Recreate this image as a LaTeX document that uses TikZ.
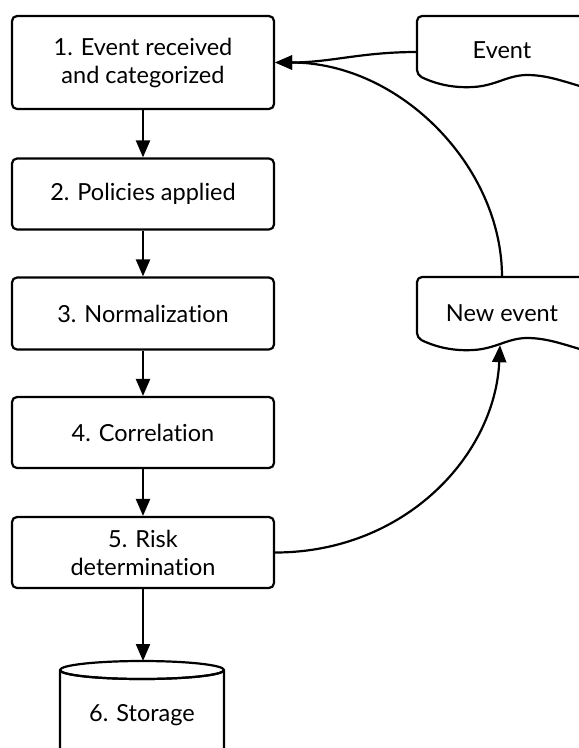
\documentclass[tikz,border=0pt]{standalone}
\usepackage{fontspec}
\setmainfont{Lato}[Ligatures={NoCommon}]
\usetikzlibrary{arrows.meta,calc}
\begin{document}
\begin{tikzpicture}[x=1pt,y=-1pt,
  lbl/.style={font=\fontsize{23.5}{28}\selectfont,align=center,inner sep=0pt},
  stage/.style={lbl,draw,line width=2.2pt,rounded corners=5pt,minimum width=262pt},
  docbox/.style={lbl,minimum width=170pt,minimum height=72pt},
  outline/.style={line width=2.2pt,line join=round},
  link/.style={line width=2.2pt,-{Triangle[length=17pt,width=14pt]}}]
\useasboundingbox (0,0) rectangle (579,748);
\clip (0,0) rectangle (579,748);

% processing stages
\node[stage,minimum height=93pt] (s1) at (143,62.5) {1. Event received\\and categorized};
\node[stage,minimum height=71pt] (s2) at (143,194) {2. Policies applied};
\node[stage,minimum height=72pt] (s3) at (143,313.5) {3. Normalization};
\node[stage,minimum height=71pt] (s4) at (143,432.5) {4. Correlation};
\node[stage,minimum height=71pt] (s5) at (143,552.5) {5. Risk\\determination};

% storage cylinder
\draw[outline] (60,760) -- (60,670) arc[start angle=180,end angle=360,x radius=82,y radius=-9] -- (224,760);
\draw[outline] (142,670) ellipse[x radius=82,y radius=9];
\node[lbl] (store) at (142,715) {6. Storage};
\coordinate (storetop) at (143,661);

% document shapes with a wavy lower edge
\draw[outline] (417,75) .. controls (438,85) and (455,88) .. (473,87)
  .. controls (495,86) and (508,75) .. (527,75)
  .. controls (548,75) and (565,82) .. (590,89)
  -- (590,16) [rounded corners=5pt] -- (417,16) -- cycle;
\node[docbox] (evt) at (502,52) {};
\node[lbl] at (502,50) {Event};

\draw[outline] (417,338) .. controls (438,348) and (455,351) .. (473,350)
  .. controls (495,349) and (508,338) .. (527,338)
  .. controls (548,338) and (565,345) .. (590,352)
  -- (590,277) [rounded corners=5pt] -- (417,277) -- cycle;
\node[docbox] (nev) at (502,313) {};
\node[lbl] at (502,313) {New event};

% connectors
\draw[link] (s1) -- (s2);
\draw[link] (s2) -- (s3);
\draw[link] (s3) -- (s4);
\draw[link] (s4) -- (s5);
\draw[link] (s5.south) -- (storetop);
\draw[link] (evt.west) to[out=180,in=0] (s1.east);
\draw[link] (nev.north) .. controls +(0,-110) and +(125,0) .. (s1.east);
\draw[link] (s5.east) .. controls +(130,0) and +(-5,110) .. ([xshift=-2pt,yshift=4pt]nev.south);
\end{tikzpicture}
\end{document}
